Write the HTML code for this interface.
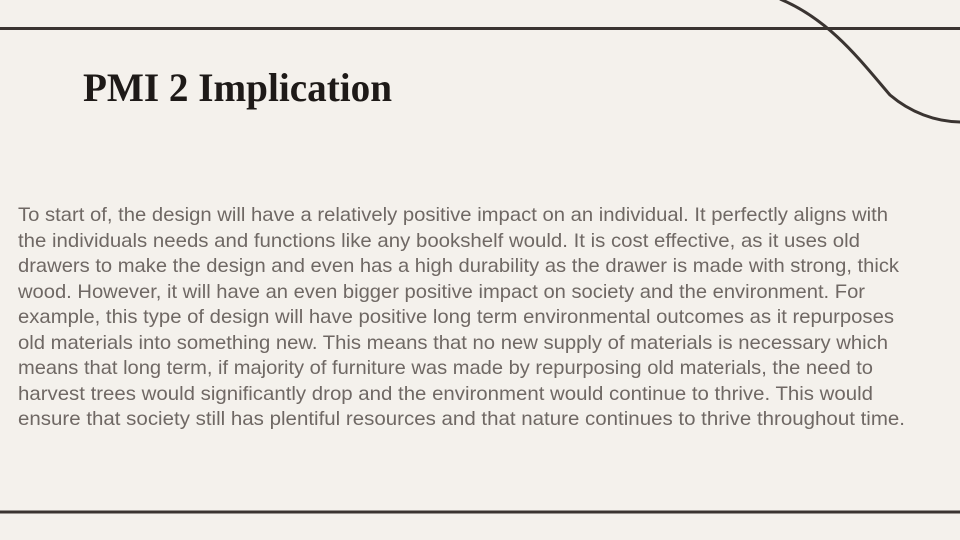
<!DOCTYPE html>
<html>
<head>
<meta charset="utf-8">
<style>
  html, body { margin: 0; padding: 0; }
  body { width: 960px; height: 540px; background: #f4f1ec; overflow: hidden; }
  svg { display: block; }
</style>
</head>
<body>
<svg width="960" height="540" viewBox="0 0 960 540">
  <rect x="0" y="0" width="960" height="540" fill="#f4f1ec"/>
  <line x1="0" y1="28.5" x2="960" y2="28.5" stroke="#3a3431" stroke-width="3"/>
  <line x1="0" y1="512" x2="960" y2="512" stroke="#3a3431" stroke-width="3"/>
  <path d="M780,-1 C830,20 860,60 890,95 C910,112 935,122 962,122" fill="none" stroke="#3a3431" stroke-width="3"/>
  <text x="83" y="101" font-family="Liberation Serif, serif" font-weight="bold" font-size="40" fill="#1e1a18" textLength="309" lengthAdjust="spacingAndGlyphs">PMI 2 Implication</text>
  <g font-family="Liberation Sans, sans-serif" font-size="19.5" fill="#6f6864">
    <text x="18" y="221" textLength="870" lengthAdjust="spacingAndGlyphs">To start of, the design will have a relatively positive impact on an individual. It perfectly aligns with</text>
    <text x="18" y="247" textLength="842" lengthAdjust="spacingAndGlyphs">the individuals needs and functions like any bookshelf would. It is cost effective, as it uses old</text>
    <text x="18" y="272" textLength="881" lengthAdjust="spacingAndGlyphs">drawers to make the design and even has a high durability as the drawer is made with strong, thick</text>
    <text x="18" y="298" textLength="847" lengthAdjust="spacingAndGlyphs">wood. However, it will have an even bigger positive impact on society and the environment. For</text>
    <text x="18" y="323" textLength="876" lengthAdjust="spacingAndGlyphs">example, this type of design will have positive long term environmental outcomes as it repurposes</text>
    <text x="18" y="349" textLength="870" lengthAdjust="spacingAndGlyphs">old materials into something new. This means that no new supply of materials is necessary which</text>
    <text x="18" y="374" textLength="855" lengthAdjust="spacingAndGlyphs">means that long term, if majority of furniture was made by repurposing old materials, the need to</text>
    <text x="18" y="400" textLength="855" lengthAdjust="spacingAndGlyphs">harvest trees would significantly drop and the environment would continue to thrive. This would</text>
    <text x="18" y="425" textLength="887" lengthAdjust="spacingAndGlyphs">ensure that society still has plentiful resources and that nature continues to thrive throughout time.</text>
  </g>
</svg>
</body>
</html>
